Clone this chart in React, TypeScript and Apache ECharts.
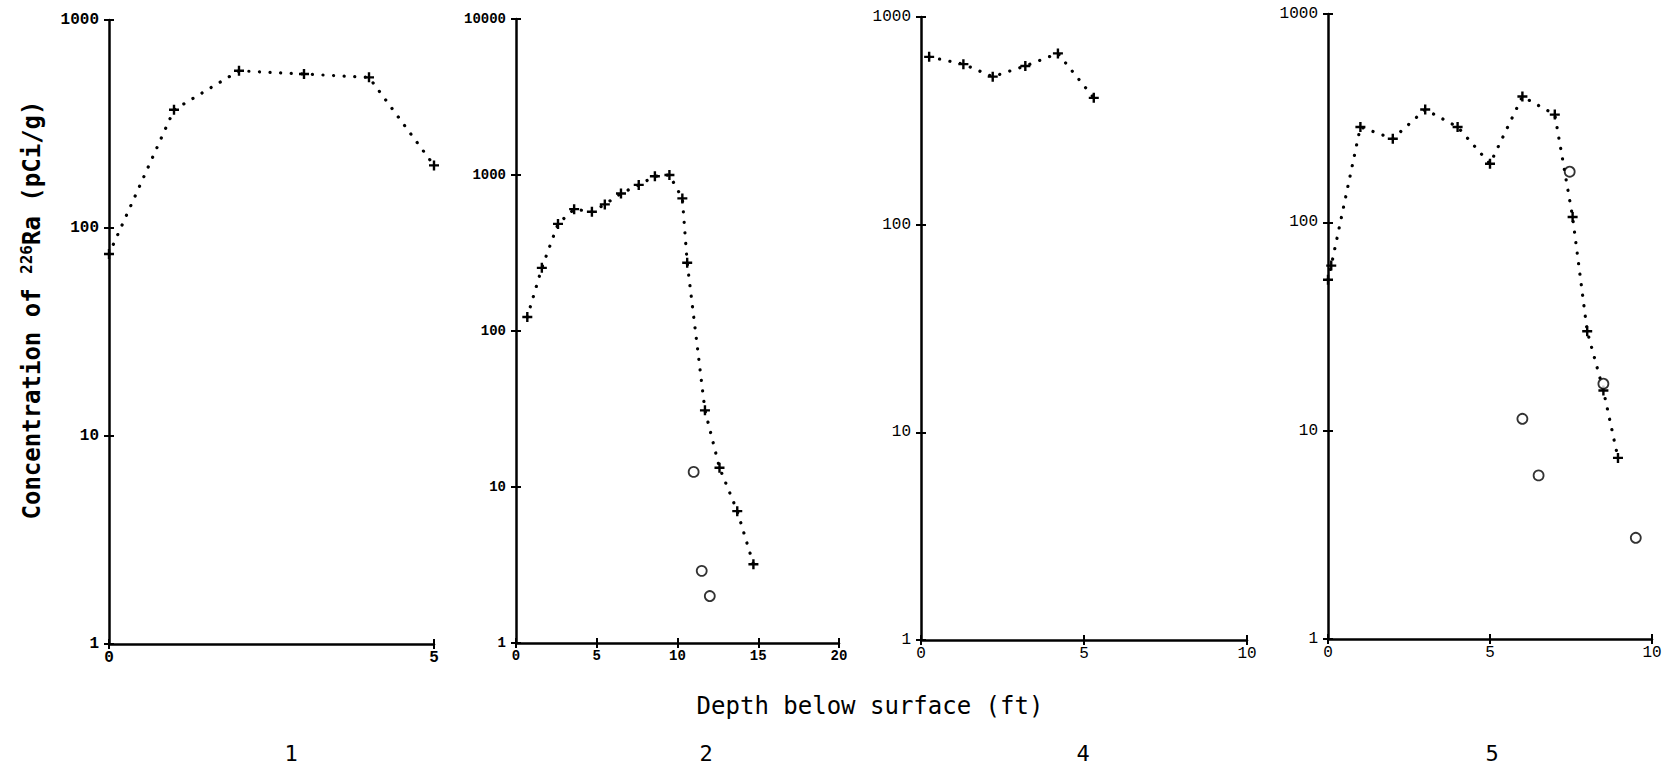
import React, { useEffect, useRef } from "react";
import * as echarts from "echarts";

// ---- Data (depth in ft, concentration of 226Ra in pCi/g) ----
const p1Depth = [0, 1, 2, 3, 4, 5];
const p1Conc = [75, 370, 570, 550, 530, 200];

const p2Depth = [0.7, 1.6, 2.6, 3.6, 4.7, 5.5, 6.5, 7.6, 8.6, 9.5, 10.3, 10.6, 11.7, 12.6, 13.7, 14.7];
const p2Conc = [123, 254, 486, 604, 581, 648, 761, 864, 981, 1000, 708, 274, 31, 13.3, 7.0, 3.2];
const p2OpenDepth = [11.0, 11.5, 12.0];
const p2OpenConc = [12.5, 2.9, 2.0];

const p4Depth = [0.25, 1.3, 2.2, 3.2, 4.2, 5.3];
const p4Conc = [643, 593, 516, 581, 668, 408];

const p5Depth = [0, 0.1, 1, 2, 3, 4, 5, 6, 7, 7.55, 8, 8.5, 8.95];
const p5Conc = [53, 62, 287, 252, 348, 287, 191, 402, 329, 106, 30, 15.6, 7.4];
const p5OpenDepth = [7.46, 8.5, 6.0, 6.5, 9.5];
const p5OpenConc = [175, 16.8, 11.4, 6.1, 3.06];

const panelLabels = ["1", "2", "4", "5"];
const xMaxes = [5, 20, 10, 10];
const xIntervals = [5, 5, 5, 5];
const yMaxes = [1000, 10000, 1000, 1000];

const yTitle = "Concentration of ";
const ySup = "226";
const yTitleEnd = "Ra (pCi/g)";
const xTitle = "Depth below surface (ft)";

// ---- Layout ----
const grids = [
  { left: 109, top: 20, width: 325, height: 624 },
  { left: 516, top: 19, width: 323, height: 624 },
  { left: 921, top: 17, width: 326, height: 623 },
  { left: 1328, top: 14, width: 324, height: 625 },
];
const labelPos = [291, 706, 1083, 1492];

const PLUS = "path://M-1.2,-5 L1.2,-5 L1.2,-1.2 L5,-1.2 L5,1.2 L1.2,1.2 L1.2,5 L-1.2,5 L-1.2,1.2 L-5,1.2 L-5,-1.2 L-1.2,-1.2 Z";
const MONO = "'Liberation Mono', 'DejaVu Sans Mono', monospace";
const PLOT = "'DejaVu Sans Mono', monospace";

function pairs(xs: number[], ys: number[]) {
  return xs.map((x, i) => [x, ys[i]]);
}

export default function App() {
  const ref = useRef<HTMLDivElement>(null);

  useEffect(() => {
    if (!ref.current) return;
    const chart = echarts.init(ref.current, null, { renderer: "svg" });

    const xAxis: any[] = [];
    const yAxis: any[] = [];
    grids.forEach((g, i) => {
      const labelFont = {
        fontFamily: MONO,
        fontSize: i === 1 ? 14 : 16,
        fontWeight: i < 2 ? "bold" : "normal",
        color: "#000",
        formatter: (v: number) => String(Math.round(v)),
      };
      // main x axis (outside ticks + labels)
      xAxis.push({
        type: "value",
        gridIndex: i,
        position: "bottom",
        min: 0,
        max: xMaxes[i],
        interval: xIntervals[i],
        axisLine: { show: true, onZero: false, lineStyle: { color: "#000", width: 2.5 } },
        axisTick: { show: true, length: 5, lineStyle: { color: "#000", width: 2 } },
        axisLabel: { ...labelFont, margin: 6 },
        splitLine: { show: false },
      });
      // mirror x axis (inside ticks only)
      xAxis.push({
        type: "value",
        gridIndex: i,
        position: "bottom",
        min: 0,
        max: xMaxes[i],
        interval: xIntervals[i],
        axisLine: { show: false, onZero: false },
        axisTick: { show: true, inside: true, length: 5, lineStyle: { color: "#000", width: 2 } },
        axisLabel: { show: false },
        splitLine: { show: false },
      });
      yAxis.push({
        type: "log",
        logBase: 10,
        gridIndex: i,
        position: "left",
        min: 1,
        max: yMaxes[i],
        axisLine: { show: true, onZero: false, lineStyle: { color: "#000", width: 2.5 } },
        axisTick: { show: true, length: 5, lineStyle: { color: "#000", width: 2 } },
        axisLabel: { ...labelFont, margin: 10 },
        minorTick: { show: false },
        splitLine: { show: false },
      });
      yAxis.push({
        type: "log",
        logBase: 10,
        gridIndex: i,
        position: "left",
        min: 1,
        max: yMaxes[i],
        axisLine: { show: false, onZero: false },
        axisTick: { show: true, inside: true, length: 5, lineStyle: { color: "#000", width: 2 } },
        axisLabel: { show: false },
        splitLine: { show: false },
      });
    });

    const dotted = { color: "#000", width: 3.2, type: [0.1, 10.5], cap: "round" };
    const lineSeries = (i: number, xs: number[], ys: number[]) => ({
      type: "line",
      xAxisIndex: i * 2,
      yAxisIndex: i * 2,
      data: pairs(xs, ys),
      symbol: PLUS,
      symbolSize: 10,
      showSymbol: true,
      itemStyle: { color: "#000" },
      lineStyle: dotted,
      z: 3,
    });
    const openSeries = (i: number, xs: number[], ys: number[]) => ({
      type: "scatter",
      xAxisIndex: i * 2,
      yAxisIndex: i * 2,
      data: pairs(xs, ys),
      symbol: "circle",
      symbolSize: 10,
      itemStyle: { color: "#fff", borderColor: "#000", borderWidth: 1.8 },
      z: 4,
    });

    const graphic: any[] = [
      {
        type: "text",
        x: 32,
        y: 310,
        rotation: Math.PI / 2,
        style: {
          text: `{a|${yTitle}}{s|${ySup}}{a|${yTitleEnd}}`,
          align: "center",
          verticalAlign: "middle",
          fill: "#000",
          rich: {
            a: { fontFamily: PLOT, fontSize: 24, fontWeight: "bold", fill: "#000", lineHeight: 28 },
            s: { fontFamily: PLOT, fontSize: 16, fontWeight: "bold", fill: "#000", verticalAlign: "top" },
          },
        },
      },
      {
        type: "text",
        x: 870,
        y: 706,
        style: {
          text: xTitle,
          align: "center",
          verticalAlign: "middle",
          fontFamily: PLOT,
          fontSize: 24,
          fill: "#000",
        },
      },
      ...panelLabels.map((t, i) => ({
        type: "text",
        x: labelPos[i],
        y: 753,
        style: {
          text: t,
          align: "center",
          verticalAlign: "middle",
          fontFamily: PLOT,
          fontSize: 22,
          fill: "#000",
        },
      })),
    ];

    chart.setOption({
      animation: false,
      backgroundColor: "#fff",
      grid: grids.map((g) => ({ ...g, containLabel: false })),
      xAxis,
      yAxis,
      graphic,
      series: [
        lineSeries(0, p1Depth, p1Conc),
        lineSeries(1, p2Depth, p2Conc),
        openSeries(1, p2OpenDepth, p2OpenConc),
        lineSeries(2, p4Depth, p4Conc),
        lineSeries(3, p5Depth, p5Conc),
        openSeries(3, p5OpenDepth, p5OpenConc),
      ],
    });

    return () => chart.dispose();
  }, []);

  return (
    <div
      ref={ref}
      style={{ position: "fixed", left: 0, top: 0, width: 1669, height: 770, background: "#fff" }}
    />
  );
}
